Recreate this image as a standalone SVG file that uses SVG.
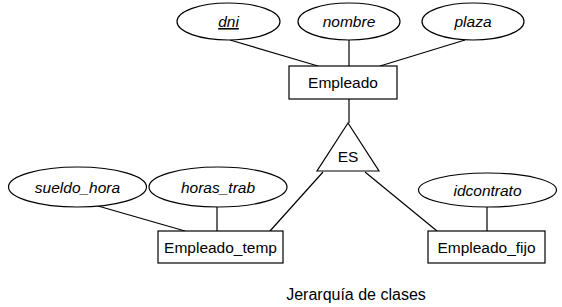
<svg xmlns="http://www.w3.org/2000/svg" width="562" height="307" viewBox="0 0 562 307">
<style>
.shape{fill:#fff;stroke:#000;stroke-width:1.2}
.ln{stroke:#000;stroke-width:1.2;fill:none}
text{font-family:"Liberation Sans",Arial,sans-serif;font-size:15.5px;fill:#000;text-anchor:middle}
.attr{font-style:italic}
</style>
<rect width="562" height="307" fill="#fff"/>
<g id="connectors">
<line class="ln" x1="230" y1="40" x2="318" y2="66"/>
<line class="ln" x1="349" y1="40" x2="349" y2="66"/>
<line class="ln" x1="465" y1="40" x2="380" y2="66"/>
<line class="ln" x1="349" y1="99" x2="349" y2="123"/>
<line class="ln" x1="323" y1="172" x2="270" y2="231"/>
<line class="ln" x1="365" y1="172" x2="437" y2="231"/>
<line class="ln" x1="98" y1="206" x2="185" y2="231"/>
<line class="ln" x1="217" y1="207" x2="217" y2="231"/>
<line class="ln" x1="487" y1="207" x2="487" y2="231"/>
</g>
<g id="dni"><ellipse class="shape" cx="228.5" cy="21.5" rx="51.5" ry="18.5"/><text class="attr" x="228.5" y="27" text-decoration="underline">dni</text></g>
<g id="nombre"><ellipse class="shape" cx="349" cy="21.5" rx="51" ry="18.5"/><text class="attr" x="349" y="27">nombre</text></g>
<g id="plaza"><ellipse class="shape" cx="473" cy="21.5" rx="51" ry="18.5"/><text class="attr" x="473" y="27">plaza</text></g>
<g id="Empleado"><rect class="shape" x="289" y="66" width="108" height="33"/><text x="343" y="88">Empleado</text></g>
<g id="ES"><polygon class="shape" points="348,123 317,171 379,171"/><text x="348" y="162">ES</text></g>
<g id="sueldo_hora"><ellipse class="shape" cx="77.5" cy="187" rx="69" ry="20"/><text class="attr" x="77.5" y="192.5">sueldo_hora</text></g>
<g id="horas_trab"><ellipse class="shape" cx="218" cy="187" rx="69" ry="20"/><text class="attr" x="218" y="192.5">horas_trab</text></g>
<g id="idcontrato"><ellipse class="shape" cx="487.5" cy="190" rx="69" ry="17"/><text class="attr" x="487.5" y="195.5">idcontrato</text></g>
<g id="Empleado_temp"><rect class="shape" x="158" y="231" width="125" height="32"/><text x="220.5" y="252.5">Empleado_temp</text></g>
<g id="Empleado_fijo"><rect class="shape" x="428" y="231" width="117" height="32"/><text x="486.5" y="252.5">Empleado_fijo</text></g>
<text x="356" y="300" style="font-size:16px">Jerarquía de clases</text>
</svg>
